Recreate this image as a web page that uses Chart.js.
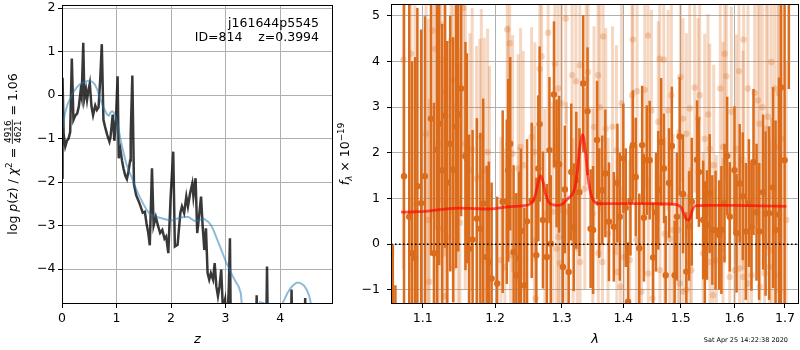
<!DOCTYPE html>
<html>
<head>
<meta charset="utf-8">
<script src="https://cdn.jsdelivr.net/npm/chart.js@4.4.0/dist/chart.umd.min.js"></script>
<style>
  html, body { margin: 0; padding: 0; background: #fff; }
  #wrap { position: relative; width: 800px; height: 350px; }
  #left { position: absolute; left: 0; top: 0; width: 336px; height: 350px; }
  #right { position: absolute; left: 336px; top: 0; width: 464px; height: 350px; }
</style>
</head>
<body>
<div id="wrap">
  <div id="left"><canvas id="pz"></canvas></div>
  <div id="right"><canvas id="spec"></canvas></div>
</div>
<script>
// left panel: log p(z), noisy and smoothed
const pzZ = [0.00, 0.01, 0.03, 0.06, 0.09, 0.12, 0.15, 0.18, 0.21, 0.24, 0.28, 0.31, 0.34, 0.36, 0.39, 0.41,
  0.44, 0.46, 0.48, 0.51, 0.54, 0.57, 0.61, 0.64, 0.67, 0.70, 0.73, 0.76, 0.79, 0.83, 0.87, 0.89, 0.93, 0.96,
  0.99, 1.02, 1.04, 1.07, 1.10, 1.13, 1.16, 1.19, 1.22, 1.25, 1.26, 1.29, 1.32, 1.36, 1.40, 1.44, 1.48, 1.52,
  1.55, 1.58, 1.61, 1.65, 1.68, 1.72, 1.76, 1.80, 1.84, 1.88, 1.91, 1.95, 1.99, 2.04, 2.07, 2.12, 2.17, 2.20,
  2.24, 2.28, 2.31, 2.35, 2.39, 2.41, 2.45, 2.48, 2.52, 2.55, 2.58, 2.61, 2.64, 2.67, 2.70, 2.73, 2.77, 2.80,
  2.83, 2.86, 2.89, 2.92, 2.95, 2.99, 3.02, 3.06, 3.08, 3.10, 3.30, 3.55, 3.57, 3.59, 3.74, 3.76, 3.78, 4.19,
  4.21, 4.23, 4.44, 4.46, 4.48, 4.60];
const pzLog = [-1.90, 0.40, -0.90, -1.18, -1.05, -1.00, -0.85, 0.84, -0.57, -0.48, -0.42, -0.25, 0.08, -0.05, 1.20, -0.08,
  0.12, -0.10, 0.08, 0.27, -0.25, -0.46, -0.24, -0.34, -0.28, 0.34, 1.17, -0.57, -0.73, -0.92, -1.07, -0.96, -0.45, -1.05,
  -0.55, 0.43, -1.45, -1.25, -1.50, -1.70, -1.85, -1.93, -1.75, -1.50, -0.90, 0.45, -2.05, -2.30, -2.42, -2.55, -2.70, -2.68,
  -2.95, -3.15, -3.45, -1.68, -3.00, -2.80, -3.00, -3.17, -3.10, -3.30, -3.25, -3.63, -2.40, -1.30, -3.48, -3.44, -2.71, -2.56,
  -2.71, -2.33, -2.56, -2.25, -2.03, -2.33, -1.91, -3.17, -2.71, -2.33, -3.02, -3.56, -3.06, -4.09, -4.24, -4.09, -4.24, -3.86,
  -4.39, -4.62, -4.39, -4.01, -4.90, -4.70, -5.50, -4.40, -3.29, -6.00, -6.50, -6.00, -4.60, -6.00, -6.00, -3.94, -6.00, -6.00,
  -4.47, -6.00, -6.00, -4.66, -6.00, -7.00];
const smoothZ = [0.00, 0.05, 0.10, 0.15, 0.20, 0.26, 0.32, 0.39, 0.45, 0.50, 0.55, 0.60, 0.65, 0.69, 0.74, 0.79,
  0.83, 0.86, 0.89, 0.92, 0.95, 0.98, 1.03, 1.09, 1.14, 1.18, 1.23, 1.28, 1.33, 1.37, 1.43, 1.49, 1.55, 1.61,
  1.68, 1.74, 1.86, 1.98, 2.05, 2.10, 2.23, 2.32, 2.41, 2.46, 2.52, 2.60, 2.69, 2.74, 2.78, 2.84, 2.90, 2.96,
  3.02, 3.09, 3.15, 3.20, 3.24, 3.28, 3.30, 3.33, 3.55, 3.63, 3.70, 3.75, 4.00, 4.04, 4.13, 4.20, 4.25, 4.30,
  4.35, 4.40, 4.44, 4.49, 4.53, 4.57, 4.62];
const smoothLog = [-0.82, -0.44, -0.22, -0.08, 0.05, 0.16, 0.24, 0.29, 0.32, 0.33, 0.31, 0.25, 0.12, -0.05, -0.22, -0.36,
  -0.45, -0.47, -0.40, -0.37, -0.40, -0.48, -0.74, -1.12, -1.38, -1.58, -1.75, -1.89, -2.06, -2.19, -2.35, -2.50, -2.63, -2.73,
  -2.78, -2.80, -2.84, -2.88, -2.87, -2.84, -2.80, -2.80, -2.88, -2.90, -2.87, -2.84, -2.92, -3.00, -3.11, -3.30, -3.49, -3.68,
  -3.87, -4.05, -4.21, -4.32, -4.40, -4.55, -4.85, -5.50, -5.20, -4.76, -4.78, -5.20, -5.10, -4.80, -4.56, -4.42, -4.36, -4.31,
  -4.31, -4.34, -4.38, -4.48, -4.60, -4.82, -5.30];
const zTicks = [0, 1, 2, 3, 4];
const logTicks = [-4, -3, -2, -1, 0, 1, 2];

// right panel: spectrum (two sets of points with error bars) and model
const specWave = [1.0612, 1.0645, 1.0756, 1.0824, 1.0860, 1.0900, 1.0930, 1.0980, 1.1030, 1.1110, 1.1150, 1.1190,
  1.1220, 1.1260, 1.1300, 1.1330, 1.1370, 1.1410, 1.1450, 1.1480, 1.1520, 1.1580, 1.1600, 1.1630, 1.1680, 1.1740,
  1.1790, 1.1830, 1.1880, 1.1910, 1.1950, 1.2030, 1.2110, 1.2170, 1.2190, 1.2220, 1.2270, 1.2310, 1.2350, 1.2380,
  1.2430, 1.2470, 1.2540, 1.2610, 1.2640, 1.2660, 1.2710, 1.2770, 1.2810, 1.2830, 1.2880, 1.2920, 1.2960, 1.3020,
  1.3050, 1.3110, 1.3150, 1.3190, 1.3230, 1.3280, 1.3340, 1.3410, 1.3460, 1.3500, 1.3565, 1.3600, 1.3650, 1.3700,
  1.3760, 1.3840, 1.3900, 1.3940, 1.4000, 1.4040, 1.4080, 1.4120, 1.4160, 1.4210, 1.4270, 1.4320, 1.4350, 1.4400,
  1.4450, 1.4510, 1.4560, 1.4600, 1.4650, 1.4700, 1.4730, 1.4790, 1.4840, 1.4890, 1.4930, 1.4980, 1.5040, 1.5100,
  1.5150, 1.5200, 1.5296, 1.5330, 1.5410, 1.5440, 1.5480, 1.5530, 1.5580, 1.5640, 1.5710, 1.5750, 1.5810, 1.5860,
  1.5910, 1.6000, 1.6040, 1.6100, 1.6160, 1.6220, 1.6280, 1.6330, 1.6370, 1.6430, 1.6480, 1.6560, 1.6610, 1.6680,
  1.6760, 1.6810, 1.6880, 1.6920, 1.6993, 1.7080];
const specFlux = [-3.60, -3.00, 1.49, 0.60, -0.20, -0.30, 1.27, 0.90, 1.49, 2.75, -0.20, 2.07,
  2.64, 1.62, 2.82, 1.35, 2.20, 1.63, 2.58, 2.84, 3.41, 1.93, 1.88, -0.10, 0.10, 0.56,
  0.34, 0.89, -0.28, -0.39, -0.75, -0.86, 0.93, 0.93, 1.62, 2.20, -0.17, -0.68, -0.31, 0.29,
  -0.90, 0.50, 0.96, -0.24, 1.66, 2.63, 0.53, -0.28, 2.06, 0.01, 3.28, 1.77, 1.75, -0.50,
  1.20, -0.61, 1.58, 0.37, 1.40, 1.14, 3.52, 2.91, 0.34, 0.31, 2.28, 0.90, 1.18, 1.55,
  0.49, 0.38, 1.34, 0.60, 1.88, 0.80, -1.26, 0.95, 2.17, 1.47, -0.09, 2.17, 0.58, 1.84,
  1.84, -0.29, 0.70, 1.18, 2.24, 1.66, -0.68, 1.34, 2.15, -0.68, 0.60, 2.36, 1.10, -0.60,
  0.40, 0.93, 1.85, 1.58, 0.53, -0.02, 0.42, 1.11, 0.31, 0.31, 0.20, 0.31, 0.90, 1.93,
  0.60, 1.62, 0.24, 1.33, 1.05, 0.28, 0.90, 0.38, 1.80, 0.70, 0.28, 1.14, 0.67, 0.68,
  1.24, 0.31, 0.65, 3.43, 1.84, 7.00];
const specErr = [3.60, 2.10, 4.60, 4.80, 4.20, 4.40, 3.90, 3.80, 3.50, 3.00, 3.30, 3.40,
  3.10, 3.20, 2.90, 3.10, 2.80, 2.90, 3.10, 3.00, 2.80, 2.50, 2.30, 2.50, 2.40, 2.20,
  2.10, 2.30, 2.00, 2.20, 2.10, 1.90, 2.00, 1.80, 2.00, 1.90, 1.90, 1.80, 1.90, 1.80,
  1.70, 1.80, 1.70, 1.70, 1.60, 1.70, 1.50, 1.60, 1.60, 1.50, 1.60, 1.40, 1.50, 1.50,
  1.40, 1.50, 1.50, 1.40, 1.50, 1.40, 1.50, 1.40, 1.30, 1.40, 1.30, 1.20, 1.20, 1.40,
  1.30, 1.20, 1.30, 1.40, 1.20, 1.30, 1.30, 1.20, 1.20, 1.30, 1.20, 1.30, 1.40, 1.20,
  1.30, 1.20, 1.30, 1.30, 1.40, 1.20, 1.30, 1.20, 1.30, 1.20, 1.40, 1.30, 1.30, 1.30,
  1.20, 1.40, 1.30, 1.20, 1.30, 1.40, 1.20, 1.30, 1.20, 1.30, 1.20, 1.40, 1.30, 1.30,
  1.20, 1.40, 1.30, 1.30, 1.40, 1.50, 1.40, 1.40, 1.60, 1.50, 1.50, 1.70, 1.80, 1.90,
  2.20, 2.40, 3.00, 4.80, 3.60, 3.60];

const fadeWave = [1.0747, 1.0846, 1.0898, 1.1044, 1.1074, 1.1087, 1.1133, 1.1167, 1.1200, 1.1208, 1.1245, 1.1260,
  1.1294, 1.1298, 1.1325, 1.1380, 1.1411, 1.1420, 1.1479, 1.1504, 1.1549, 1.1577, 1.1643, 1.1674, 1.1736, 1.1783,
  1.1803, 1.1845, 1.1893, 1.1920, 1.2084, 1.2142, 1.2176, 1.2190, 1.2212, 1.2226, 1.2255, 1.2337, 1.2350, 1.2373,
  1.2413, 1.2538, 1.2580, 1.2588, 1.2600, 1.2663, 1.2690, 1.2739, 1.2790, 1.2862, 1.2893, 1.2920, 1.2945, 1.2950,
  1.2971, 1.2997, 1.3064, 1.3075, 1.3164, 1.3180, 1.3223, 1.3244, 1.3286, 1.3290, 1.3366, 1.3390, 1.3419, 1.3495,
  1.3515, 1.3581, 1.3585, 1.3609, 1.3652, 1.3663, 1.3707, 1.3745, 1.3818, 1.3884, 1.3890, 1.3951, 1.3968, 1.4010,
  1.4107, 1.4147, 1.4160, 1.4222, 1.4232, 1.4308, 1.4365, 1.4421, 1.4425, 1.4480, 1.4500, 1.4600, 1.4626, 1.4630,
  1.4696, 1.4714, 1.4773, 1.4802, 1.4832, 1.4862, 1.4951, 1.4981, 1.4993, 1.5040, 1.5042, 1.5101, 1.5105, 1.5162,
  1.5165, 1.5195, 1.5253, 1.5315, 1.5345, 1.5407, 1.5438, 1.5499, 1.5531, 1.5535, 1.5593, 1.5606, 1.5655, 1.5730,
  1.5780, 1.5782, 1.5813, 1.5845, 1.5908, 1.5940, 1.6004, 1.6036, 1.6087, 1.6100, 1.6165, 1.6168, 1.6177, 1.6261,
  1.6263, 1.6330, 1.6393, 1.6457, 1.6491, 1.6495, 1.6545, 1.6590, 1.6623, 1.6656, 1.6690, 1.6725, 1.6730, 1.6791,
  1.6795, 1.6858, 1.6878, 1.6925, 1.7027];
const fadeFlux = [4.04, 4.17, 0.89, 2.42, 0.53, -0.82, 4.68, 4.28, 0.36, 2.20, 4.81, 0.32,
  3.33, -1.14, 0.15, 4.45, 3.59, -0.50, 0.90, 0.47, 5.17, 2.20, 1.62, 2.07, 1.44, 1.50,
  2.35, 1.62, 2.02, 1.10, -0.35, -0.50, 4.70, 2.19, 4.40, -0.24, 1.98, 1.66, -0.28, 2.13,
  1.73, 2.35, 0.09, 2.02, -1.19, 3.84, 4.11, 0.67, 4.63, 0.71, 3.95, -0.10, 3.41, 0.16,
  -0.42, 3.08, 4.94, 0.71, 3.70, 0.02, 3.57, -0.09, 3.92, -0.39, 1.22, 3.60, 3.77, 0.67,
  2.57, 3.70, -0.20, 3.00, -0.39, 4.55, 2.53, 0.23, 2.57, 2.06, -0.61, -0.93, 3.08, -0.28,
  -0.35, 3.26, 4.48, 0.09, 3.35, -1.04, 3.38, 4.57, -0.64, 2.93, -1.19, 2.68, 4.06, -0.57,
  4.04, 0.23, 2.93, 0.12, 3.26, 0.31, 0.31, -0.86, 3.66, 2.75, -1.04, 2.42, -1.00, 2.97,
  -0.42, -0.57, 3.43, 2.75, 3.26, -0.20, 2.31, 2.84, 2.09, -0.39, -1.12, 1.73, -0.35, 3.41,
  2.13, -0.31, 4.17, 3.68, -0.72, 2.90, -0.57, 2.09, 3.79, -0.53, 1.84, -0.72, 4.48, 3.41,
  -0.86, -0.68, 3.31, 3.15, 2.64, -0.93, 3.00, -0.64, 2.53, 2.79, -0.50, 3.99, -0.13, 3.41,
  -0.68, 2.13, 3.30, 2.31, 0.53];
const fadeErr = [4.6, 4.8, 4.5, 4.2, 4.4, 4.0, 4.1, 3.9, 4.2, 3.8, 3.9, 3.8,
  3.6, 3.9, 3.7, 3.8, 3.5, 3.6, 3.4, 3.5, 3.3, 3.2, 3.0, 3.1, 2.9, 3.0,
  2.8, 2.9, 2.7, 2.8, 2.7, 2.6, 2.8, 2.6, 2.7, 2.5, 2.6, 2.5, 2.4, 2.6,
  2.5, 2.4, 2.5, 2.4, 2.3, 2.5, 2.4, 2.3, 2.5, 2.4, 2.3, 2.4, 2.3, 2.4,
  2.2, 2.4, 2.3, 2.4, 2.2, 2.3, 2.4, 2.2, 2.3, 2.4, 2.2, 2.3, 2.2, 2.3,
  2.2, 2.3, 2.2, 2.3, 2.1, 2.3, 2.2, 2.1, 2.2, 2.3, 2.1, 2.2, 2.2, 2.1,
  2.2, 2.1, 2.3, 2.1, 2.2, 2.1, 2.2, 2.3, 2.1, 2.2, 2.1, 2.2, 2.3, 2.1,
  2.2, 2.1, 2.2, 2.1, 2.3, 2.1, 2.2, 2.1, 2.3, 2.2, 2.1, 2.2, 2.1, 2.3,
  2.1, 2.2, 2.3, 2.2, 2.3, 2.2, 2.3, 2.2, 2.3, 2.2, 2.3, 2.2, 2.3, 2.4,
  2.3, 2.2, 2.4, 2.3, 2.4, 2.3, 2.4, 2.5, 2.4, 2.5, 2.4, 2.5, 2.6, 2.5,
  2.6, 2.5, 2.6, 2.7, 2.6, 2.7, 2.8, 2.7, 2.8, 2.9, 2.8, 3.0, 2.9, 3.1,
  3.0, 3.2, 3.3, 3.4, 3.5];

const modelWave = [1.0718, 1.09, 1.11, 1.13, 1.15, 1.17, 1.19, 1.20, 1.22, 1.24, 1.25, 1.255, 1.259, 1.263,
  1.267, 1.271, 1.275, 1.280, 1.287, 1.295, 1.302, 1.310, 1.316, 1.321, 1.325, 1.329, 1.333, 1.337, 1.341,
  1.346, 1.351, 1.358, 1.40, 1.45, 1.48, 1.494, 1.501, 1.506, 1.510, 1.513, 1.517, 1.521, 1.526, 1.55, 1.60,
  1.65, 1.703];
const modelFlux = [0.70, 0.71, 0.73, 0.77, 0.79, 0.78, 0.77, 0.78, 0.82, 0.84, 0.87, 0.93, 1.05, 1.30,
  1.50, 1.38, 1.10, 0.92, 0.86, 0.85, 0.89, 1.00, 1.08, 1.25, 1.65, 2.15, 2.40, 2.10, 1.55,
  1.12, 0.95, 0.89, 0.89, 0.89, 0.88, 0.86, 0.80, 0.65, 0.55, 0.52, 0.58, 0.74, 0.84, 0.85, 0.85,
  0.84, 0.83];
const zeroLine = [1.0589, 1.729];
const lamTicks = [1.1, 1.2, 1.3, 1.4, 1.5, 1.6, 1.7];
const fluxTicks = [-1, 0, 1, 2, 3, 4, 5];

const FONT = 'DejaVu Sans';
const tickFont = { family: FONT, size: 12.5 };
const ORANGE = 'rgb(219,108,28)';
const ORANGE_FADE = 'rgba(219,108,28,0.27)';
const minus = v => String(v).replace('-', '\u2212');

// box around the plotting area, like matplotlib spines
const frame = {
  id: 'frame',
  afterDraw(chart) {
    const a = chart.chartArea, ctx = chart.ctx;
    ctx.save();
    ctx.strokeStyle = '#000';
    ctx.lineWidth = 1;
    ctx.strokeRect(Math.round(a.left) + 0.5, Math.round(a.top) + 0.5,
      Math.round(a.right - a.left) - 1, Math.round(a.bottom - a.top) - 1);
    ctx.restore();
  }
};

// text built from pieces (italic, sub/superscript, fraction), centred on x
function drawRich(ctx, parts, x, y) {
  let w = 0;
  parts.forEach(p => {
    ctx.font = p.font;
    p.w = p.frac ? Math.max(ctx.measureText(p.frac[0]).width, ctx.measureText(p.frac[1]).width) + 2
                 : ctx.measureText(p.t).width;
    w += p.w;
  });
  let cx = x - w / 2;
  ctx.textBaseline = 'alphabetic';
  parts.forEach(p => {
    ctx.font = p.font;
    if (p.frac) {
      ctx.textAlign = 'center';
      ctx.fillText(p.frac[0], cx + p.w / 2, y - 5.8);
      ctx.fillText(p.frac[1], cx + p.w / 2, y + 4);
      ctx.fillRect(cx, y - 4.6, p.w, 0.8);
    } else {
      ctx.textAlign = 'left';
      ctx.fillText(p.t, cx, y + (p.dy || 0));
    }
    cx += p.w;
  });
}

const N = '12.5px "DejaVu Sans"', I = 'italic 12.5px "DejaVu Sans"', S = '8.8px "DejaVu Sans"', SI = 'italic 8.8px "DejaVu Sans"';

const leftText = {
  id: 'leftText',
  afterDraw(chart) {
    const ctx = chart.ctx;
    ctx.save();
    ctx.fillStyle = '#000';
    ctx.font = N;
    ctx.textAlign = 'right';
    ctx.textBaseline = 'alphabetic';
    ctx.fillText('j161644p5545', 319, 27);
    ctx.fillText('ID=814    z=0.3994', 319, 41);
    ctx.translate(16.5, 154);
    ctx.rotate(-Math.PI / 2);
    drawRich(ctx, [
      { t: 'log ', font: N }, { t: 'p', font: I }, { t: '(', font: N }, { t: 'z', font: I },
      { t: ') / ', font: N }, { t: '\u03c7', font: I }, { t: '2', font: S, dy: -5 }, { t: ' = ', font: N },
      { frac: ['4916', '4621'], font: S }, { t: ' = 1.06', font: N }
    ], 0, 0);
    ctx.restore();
  }
};

const rightText = {
  id: 'rightText',
  afterDraw(chart) {
    const ctx = chart.ctx;
    ctx.save();
    ctx.fillStyle = '#000';
    ctx.font = '6.5px "DejaVu Sans"';
    ctx.textAlign = 'right';
    ctx.textBaseline = 'middle';
    ctx.fillText('Sat Apr 25 14:22:38 2020', 452, 340);
    ctx.translate(13, 154);
    ctx.rotate(-Math.PI / 2);
    drawRich(ctx, [
      { t: 'f', font: I }, { t: '\u03bb', font: SI, dy: 3 }, { t: ' \u00d7 10', font: N },
      { t: '\u221219', font: S, dy: -5 }
    ], 0, 0);
    ctx.restore();
  }
};

function xAxis(extra) {
  return Object.assign({
    offset: false,
    grid: { color: '#b0b0b0', tickColor: '#000', tickLength: 4, lineWidth: 1, offset: false },
    border: { display: false },
    ticks: { font: tickFont, color: '#000', padding: 3, maxRotation: 0, autoSkip: false },
    afterFit: s => { s.height = 46; s.paddingLeft = 0; s.paddingRight = 0; }
  }, extra);
}
function yAxis(width, pad, extra) {
  return Object.assign({
    grid: { color: '#b0b0b0', tickColor: '#000', tickLength: 4, lineWidth: 1 },
    border: { display: false },
    ticks: { font: tickFont, color: '#000', padding: pad, autoSkip: false, callback: v => minus(v) },
    afterFit: s => { s.width = width; s.paddingTop = 0; s.paddingBottom = 0; }
  }, extra);
}

new Chart(document.getElementById('pz'), {
  type: 'line',
  data: {
    datasets: [
      { data: smoothZ.map((z, i) => ({ x: z, y: smoothLog[i] })), borderColor: 'rgba(31,119,180,0.5)',
        borderWidth: 2, pointRadius: 0, tension: 0 },
      { data: pzZ.map((z, i) => ({ x: z, y: pzLog[i] })), borderColor: 'rgba(0,0,0,0.78)',
        borderWidth: 2.5, pointRadius: 0, tension: 0 }
    ]
  },
  options: {
    animation: false, responsive: true, maintainAspectRatio: false, devicePixelRatio: 1,
    layout: { autoPadding: false, padding: { left: 0, right: 3, top: 5, bottom: 0 } },
    plugins: { legend: { display: false }, tooltip: { enabled: false } },
    scales: {
      x: xAxis({
        type: 'linear', min: 0, max: 4.97,
        afterBuildTicks: s => { s.ticks = zTicks.map(v => ({ value: v })); },
        title: { display: true, text: 'z', color: '#000', font: { family: FONT, size: 13, style: 'italic' },
                 padding: { top: 0, bottom: 3 } }
      }),
      y: yAxis(62, 2.5, {
        type: 'linear', min: -4.8, max: 2.07,
        afterBuildTicks: s => { s.ticks = logTicks.map(v => ({ value: v })); }
      })
    }
  },
  plugins: [frame, leftText]
});

new Chart(document.getElementById('spec'), {
  type: 'scatter',
  data: {
    datasets: [
      { type: 'line', data: zeroLine.map(x => ({ x: x, y: 0 })), borderColor: '#000', borderWidth: 1.6,
        borderDash: [1.6, 2.4], pointRadius: 0 },
      { type: 'line', data: modelWave.map((x, i) => ({ x: x, y: modelFlux[i] })), borderColor: 'rgba(255,0,0,0.65)',
        borderWidth: 2.8, pointRadius: 0, cubicInterpolationMode: 'monotone' },
      { data: specWave.map((x, i) => ({ x: x, y: specFlux[i] })), backgroundColor: ORANGE, borderWidth: 0,
        pointRadius: 3.2 },
      { type: 'bar', grouped: false, barThickness: 2.5, inflateAmount: 0, backgroundColor: ORANGE, borderWidth: 0,
        data: specWave.map((x, i) => ({ x: x, y: [specFlux[i] - specErr[i], specFlux[i] + specErr[i]] })) },
      { data: fadeWave.map((x, i) => ({ x: x, y: fadeFlux[i] })), backgroundColor: ORANGE_FADE, borderWidth: 0,
        pointRadius: 3.2 },
      { type: 'bar', grouped: false, barThickness: 3, inflateAmount: 0, backgroundColor: ORANGE_FADE, borderWidth: 0,
        data: fadeWave.map((x, i) => ({ x: x, y: [fadeFlux[i] - fadeErr[i], fadeFlux[i] + fadeErr[i]] })) }
    ]
  },
  options: {
    animation: false, responsive: true, maintainAspectRatio: false, devicePixelRatio: 1,
    layout: { autoPadding: false, padding: { left: 0, right: 1, top: 4, bottom: 0 } },
    plugins: { legend: { display: false }, tooltip: { enabled: false } },
    scales: {
      x: xAxis({
        type: 'logarithmic', min: 1.0589, max: 1.729,
        afterBuildTicks: s => { s.ticks = lamTicks.map(v => ({ value: v })); },
        ticks: { font: tickFont, color: '#000', padding: 3, maxRotation: 0, autoSkip: false,
                 callback: v => Number(v).toFixed(1) },
        title: { display: true, text: '\u03bb', color: '#000', font: { family: FONT, size: 13, style: 'italic' },
                 padding: { top: 0, bottom: 3 } }
      }),
      y: yAxis(55, 7, {
        type: 'linear', min: -1.31, max: 5.26,
        afterBuildTicks: s => { s.ticks = fluxTicks.map(v => ({ value: v })); }
      })
    }
  },
  plugins: [frame, rightText]
});
</script>
</body>
</html>
